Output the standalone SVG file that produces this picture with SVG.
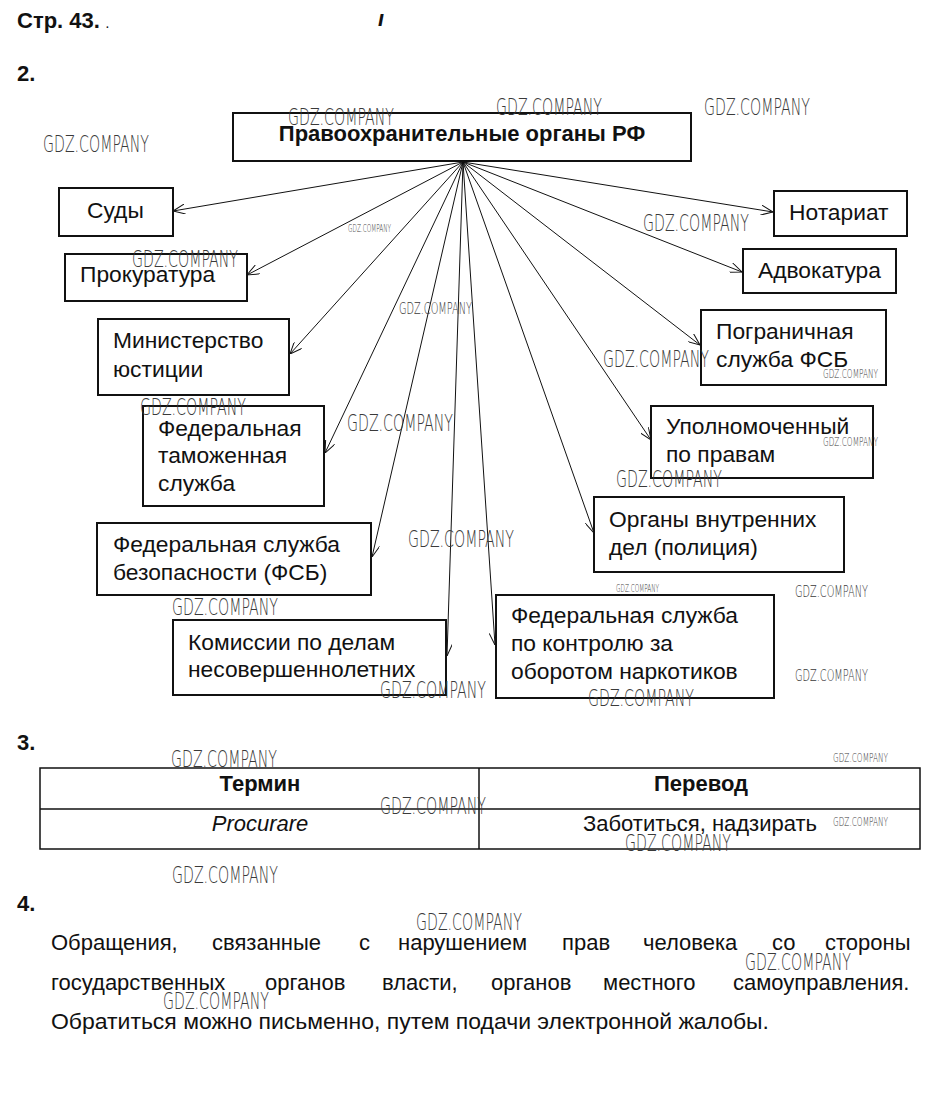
<svg xmlns="http://www.w3.org/2000/svg" width="933" height="1093" viewBox="0 0 933 1093">
<style>
.bg{fill:#fff}
.box{fill:#fff;stroke:#111;stroke-width:2}
.t{font-family:"Liberation Sans",Arial,sans-serif;font-size:22.8px;fill:#111}
.tt{font-family:"Liberation Sans",Arial,sans-serif;font-size:22px;fill:#111}
.b{font-weight:bold}
.h{font-family:"Liberation Sans",Arial,sans-serif;font-size:22px;font-weight:bold;fill:#111}
.p{font-family:"Liberation Sans",Arial,sans-serif;font-size:22px;fill:#111}
.c{stroke:#111;stroke-width:1;fill:none}
.tl{stroke:#111;stroke-width:1.5;fill:none}
.wm{font-family:"DejaVu Sans",sans-serif;fill:#3a3a3a;font-weight:200}
.wl{font-size:23px}
.wmd{font-size:16px}
.ws{font-size:13px}
.wt{font-size:10px}
</style>
<defs>
<marker id="ah" viewBox="0 0 12 10" refX="12" refY="5" markerWidth="12" markerHeight="10" markerUnits="userSpaceOnUse" orient="auto">
<path d="M0,0 L12,5 L0,10" fill="none" stroke="#111" stroke-width="1"/>
</marker>
</defs>
<rect class="bg" x="0" y="0" width="933" height="1093"/>

<text class="h" x="17" y="28">Стр. 43. <tspan font-size="10">.</tspan></text>
<text class="h" x="378" y="26" font-style="italic" font-size="18">ı</text>
<text class="h" x="17" y="81">2.</text>

<g id="connectors">
<line class="c" x1="463" y1="162" x2="173" y2="211" marker-end="url(#ah)"/>
<line class="c" x1="463" y1="162" x2="247" y2="275" marker-end="url(#ah)"/>
<line class="c" x1="463" y1="162" x2="290" y2="354" marker-end="url(#ah)"/>
<line class="c" x1="463" y1="162" x2="325" y2="453" marker-end="url(#ah)"/>
<line class="c" x1="463" y1="162" x2="372" y2="557" marker-end="url(#ah)"/>
<line class="c" x1="463" y1="162" x2="447" y2="656" marker-end="url(#ah)"/>
<line class="c" x1="463" y1="162" x2="495" y2="645" marker-end="url(#ah)"/>
<line class="c" x1="463" y1="162" x2="594" y2="533" marker-end="url(#ah)"/>
<line class="c" x1="463" y1="162" x2="651" y2="440" marker-end="url(#ah)"/>
<line class="c" x1="463" y1="162" x2="700" y2="345" marker-end="url(#ah)"/>
<line class="c" x1="463" y1="162" x2="742" y2="272" marker-end="url(#ah)"/>
<line class="c" x1="463" y1="162" x2="773" y2="212" marker-end="url(#ah)"/>
</g>

<g id="root">
<rect class="box" x="233" y="113" width="458" height="48"/>
<text class="tt b" x="462" y="141" text-anchor="middle">Правоохранительные органы РФ</text>
</g>
<g id="sudy">
<rect class="box" x="59" y="188" width="114" height="48"/>
<text class="t" x="87" y="218">Суды</text>
</g>
<g id="prokuratura">
<rect class="box" x="65" y="254" width="182" height="47"/>
<text class="t" x="80" y="282">Прокуратура</text>
</g>
<g id="minjust">
<rect class="box" x="98" y="319" width="191" height="76"/>
<text class="t" x="113" y="348">Министерство</text>
<text class="t" x="113" y="377">юстиции</text>
</g>
<g id="customs">
<rect class="box" x="143" y="406" width="181" height="100"/>
<text class="t" x="158" y="436">Федеральная</text>
<text class="t" x="158" y="463">таможенная</text>
<text class="t" x="158" y="491">служба</text>
</g>
<g id="fsb">
<rect class="box" x="97" y="523" width="274" height="72"/>
<text class="t" x="113" y="552">Федеральная служба</text>
<text class="t" x="113" y="580">безопасности (ФСБ)</text>
</g>
<g id="kdn">
<rect class="box" x="173" y="620" width="273" height="75"/>
<text class="t" x="188" y="650">Комиссии по делам</text>
<text class="t" x="188" y="677">несовершеннолетних</text>
</g>
<g id="narko">
<rect class="box" x="496" y="595" width="278" height="103"/>
<text class="t" x="511" y="623">Федеральная служба</text>
<text class="t" x="511" y="651">по контролю за</text>
<text class="t" x="511" y="679">оборотом наркотиков</text>
</g>
<g id="ovd">
<rect class="box" x="594" y="497" width="250" height="75"/>
<text class="t" x="609" y="527">Органы внутренних</text>
<text class="t" x="609" y="555">дел (полиция)</text>
</g>
<g id="ombudsman">
<rect class="box" x="651" y="406" width="222" height="72"/>
<text class="t" x="666" y="434">Уполномоченный</text>
<text class="t" x="666" y="462">по правам</text>
</g>
<g id="border">
<rect class="box" x="701" y="310" width="185" height="75"/>
<text class="t" x="716" y="339">Пограничная</text>
<text class="t" x="716" y="367">служба ФСБ</text>
</g>
<g id="advokatura">
<rect class="box" x="743" y="249" width="153" height="44"/>
<text class="t" x="758" y="278">Адвокатура</text>
</g>
<g id="notariat">
<rect class="box" x="774" y="191" width="133" height="45"/>
<text class="t" x="789" y="220">Нотариат</text>
</g>

<text class="h" x="17" y="750">3.</text>
<g id="table">
<rect class="tl" x="40" y="768" width="880" height="81"/>
<line class="tl" x1="40" y1="809" x2="920" y2="809"/>
<line class="tl" x1="479" y1="768" x2="479" y2="849"/>
<text class="tt b" x="260" y="791" text-anchor="middle">Термин</text>
<text class="tt b" x="701" y="791" text-anchor="middle">Перевод</text>
<text class="tt" x="260" y="831" text-anchor="middle" font-style="italic">Procurare</text>
<text class="tt" x="700" y="831" text-anchor="middle">Заботиться, надзирать</text>
</g>

<text class="h" x="17" y="911">4.</text>
<text class="p" y="950"><tspan x="51">Обращения,</tspan><tspan x="212">связанные</tspan><tspan x="359">с</tspan><tspan x="398">нарушением</tspan><tspan x="562">прав</tspan><tspan x="643">человека</tspan><tspan x="772">со</tspan><tspan x="825">стороны</tspan></text>
<text class="p" y="990"><tspan x="51">государственных</tspan><tspan x="265">органов</tspan><tspan x="382">власти,</tspan><tspan x="491">органов</tspan><tspan x="603">местного</tspan><tspan x="733">самоуправления.</tspan></text>
<text class="p" x="51" y="1029" textLength="718" lengthAdjust="spacingAndGlyphs">Обратиться можно письменно, путем подачи электронной жалобы.</text>

<g id="watermarks">
<text class="wm wl" x="288" y="125" textLength="106" lengthAdjust="spacingAndGlyphs">GDZ.COMPANY</text>
<text class="wm wl" x="496" y="115" textLength="106" lengthAdjust="spacingAndGlyphs">GDZ.COMPANY</text>
<text class="wm wl" x="704" y="115" textLength="106" lengthAdjust="spacingAndGlyphs">GDZ.COMPANY</text>
<text class="wm wl" x="43" y="152" textLength="106" lengthAdjust="spacingAndGlyphs">GDZ.COMPANY</text>
<text class="wm wl" x="643" y="231" textLength="106" lengthAdjust="spacingAndGlyphs">GDZ.COMPANY</text>
<text class="wm wt" x="348" y="232" textLength="43" lengthAdjust="spacingAndGlyphs">GDZ.COMPANY</text>
<text class="wm wl" x="132" y="267" textLength="106" lengthAdjust="spacingAndGlyphs">GDZ.COMPANY</text>
<text class="wm wmd" x="399" y="314" textLength="73" lengthAdjust="spacingAndGlyphs">GDZ.COMPANY</text>
<text class="wm wl" x="603" y="367" textLength="106" lengthAdjust="spacingAndGlyphs">GDZ.COMPANY</text>
<text class="wm ws" x="823" y="378" textLength="55" lengthAdjust="spacingAndGlyphs">GDZ.COMPANY</text>
<text class="wm ws" x="823" y="446" textLength="55" lengthAdjust="spacingAndGlyphs">GDZ.COMPANY</text>
<text class="wm wl" x="140" y="415" textLength="106" lengthAdjust="spacingAndGlyphs">GDZ.COMPANY</text>
<text class="wm wl" x="347" y="431" textLength="106" lengthAdjust="spacingAndGlyphs">GDZ.COMPANY</text>
<text class="wm wl" x="616" y="487" textLength="106" lengthAdjust="spacingAndGlyphs">GDZ.COMPANY</text>
<text class="wm wl" x="408" y="547" textLength="106" lengthAdjust="spacingAndGlyphs">GDZ.COMPANY</text>
<text class="wm wt" x="616" y="592" textLength="43" lengthAdjust="spacingAndGlyphs">GDZ.COMPANY</text>
<text class="wm wmd" x="795" y="597" textLength="73" lengthAdjust="spacingAndGlyphs">GDZ.COMPANY</text>
<text class="wm wl" x="172" y="615" textLength="106" lengthAdjust="spacingAndGlyphs">GDZ.COMPANY</text>
<text class="wm wl" x="380" y="698" textLength="106" lengthAdjust="spacingAndGlyphs">GDZ.COMPANY</text>
<text class="wm wl" x="588" y="706" textLength="106" lengthAdjust="spacingAndGlyphs">GDZ.COMPANY</text>
<text class="wm wmd" x="795" y="681" textLength="73" lengthAdjust="spacingAndGlyphs">GDZ.COMPANY</text>
<text class="wm wl" x="171" y="767" textLength="106" lengthAdjust="spacingAndGlyphs">GDZ.COMPANY</text>
<text class="wm ws" x="833" y="762" textLength="55" lengthAdjust="spacingAndGlyphs">GDZ.COMPANY</text>
<text class="wm wl" x="380" y="814" textLength="106" lengthAdjust="spacingAndGlyphs">GDZ.COMPANY</text>
<text class="wm ws" x="833" y="826" textLength="55" lengthAdjust="spacingAndGlyphs">GDZ.COMPANY</text>
<text class="wm wl" x="625" y="851" textLength="106" lengthAdjust="spacingAndGlyphs">GDZ.COMPANY</text>
<text class="wm wl" x="172" y="883" textLength="106" lengthAdjust="spacingAndGlyphs">GDZ.COMPANY</text>
<text class="wm wl" x="416" y="930" textLength="106" lengthAdjust="spacingAndGlyphs">GDZ.COMPANY</text>
<text class="wm wl" x="745" y="970" textLength="106" lengthAdjust="spacingAndGlyphs">GDZ.COMPANY</text>
<text class="wm wl" x="163" y="1009" textLength="106" lengthAdjust="spacingAndGlyphs">GDZ.COMPANY</text>
</g>
</svg>
